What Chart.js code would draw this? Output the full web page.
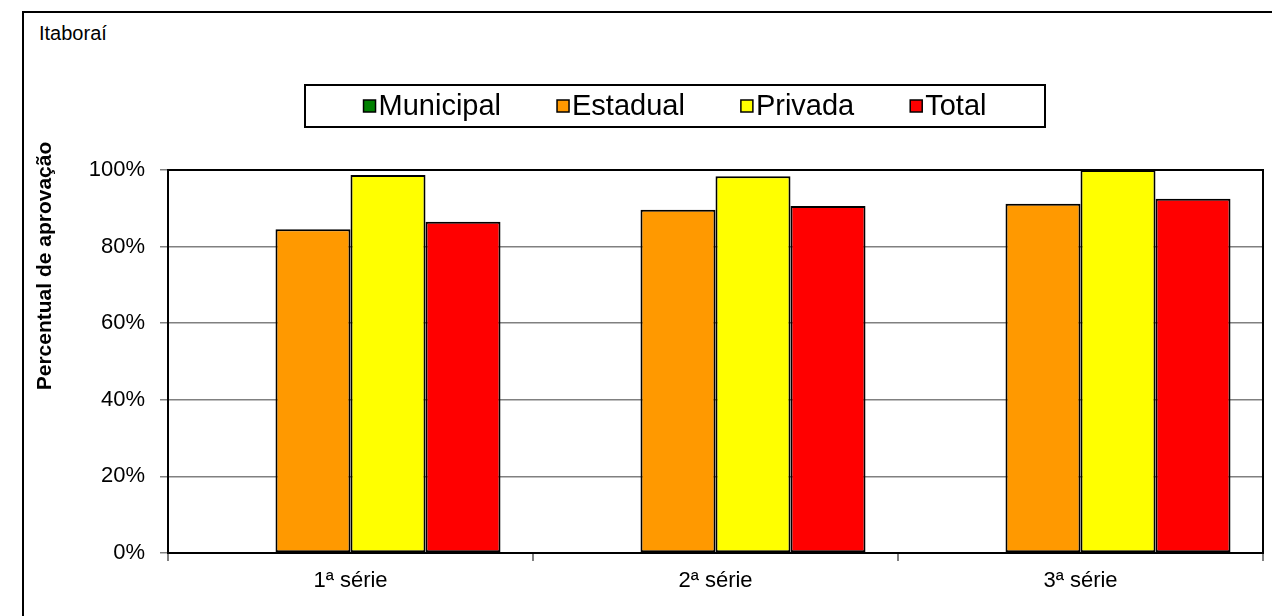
<!DOCTYPE html>
<html lang="pt">
<head>
    <meta charset="UTF-8">
    <title>Itaboraí - Percentual de aprovação</title>
    <style>
        body {
            margin: 0;
            background-color: #fff;
            font-family: "Liberation Sans", Arial, sans-serif;
        }

        #frame {
            position: absolute;
            left: 22px;
            top: 11px;
            width: 1300px;
            height: 700px;
            border: 2px solid #000;
            box-sizing: border-box;
        }

        #place {
            position: absolute;
            left: 39px;
            top: 22px;
            font-size: 20px;
            color: #000;
        }

        #chart-container {
            position: absolute;
            left: 0;
            top: 0;
            width: 1272px;
            height: 616px;
        }
    </style>
    <script src="https://cdn.jsdelivr.net/npm/chart.js"></script>
</head>
<body>
    <div id="frame"></div>
    <div id="place">Itaboraí</div>
    <div id="chart-container">
        <canvas id="approval-chart" width="1272" height="616"></canvas>
    </div>
    <script>
        const categories = ['1ª série', '2ª série', '3ª série'];
        const seriesNames = ['Municipal', 'Estadual', 'Privada', 'Total'];
        const seriesColors = ['#008000', '#FF9900', '#FFFF00', '#FF0000'];
        // Municipal has no bars in this chart
        const municipal = [null, null, null];
        const estadual = [84.5, 89.6, 91.2];
        const privada = [98.7, 98.4, 100];
        const total = [86.5, 90.6, 92.5];
        const yTicks = [0, 20, 40, 60, 80, 100];
        const yTitle = 'Percentual de aprovação';

        const seriesValues = [municipal, estadual, privada, total];
        const FONT = '"Liberation Sans", Arial, sans-serif';

        // legend drawn inside a boxed strip above the plot
        const boxLegend = {
            id: 'boxLegend',
            afterDraw(chart) {
                const ctx = chart.ctx;
                const box = { x: 305, y: 85, w: 740, h: 42 };
                ctx.save();
                ctx.fillStyle = '#fff';
                ctx.fillRect(box.x, box.y, box.w, box.h);
                ctx.lineWidth = 2;
                ctx.strokeStyle = '#000';
                ctx.strokeRect(box.x, box.y, box.w, box.h);

                ctx.font = '29px ' + FONT;
                ctx.textBaseline = 'middle';
                const marker = 12, gap = 3, spacing = 56;
                const widths = chart.data.datasets.map(d => marker + gap + ctx.measureText(d.label).width);
                const totalW = widths.reduce((a, b) => a + b, 0) + spacing * (widths.length - 1);
                let x = box.x + (box.w - totalW) / 2;
                const cy = box.y + box.h / 2;
                chart.data.datasets.forEach((d, i) => {
                    ctx.fillStyle = d.backgroundColor;
                    ctx.fillRect(x, cy - marker / 2, marker, marker);
                    ctx.lineWidth = 1.5;
                    ctx.strokeRect(x, cy - marker / 2, marker, marker);
                    ctx.fillStyle = '#000';
                    ctx.fillText(d.label, x + marker + gap, cy + 1);
                    x += widths[i] + spacing;
                });
                ctx.restore();
            }
        };

        // black frame around the plot area + rotated axis title
        const plotFrame = {
            id: 'plotFrame',
            afterDatasetsDraw(chart) {
                const a = chart.chartArea;
                const ctx = chart.ctx;
                ctx.save();
                ctx.strokeStyle = '#000';
                ctx.lineWidth = 2;
                ctx.strokeRect(a.left, a.top, a.right - a.left, a.bottom - a.top);

                ctx.translate(45, 266);
                ctx.rotate(-Math.PI / 2);
                ctx.font = 'bold 21px ' + FONT;
                ctx.fillStyle = '#000';
                ctx.textAlign = 'center';
                ctx.textBaseline = 'middle';
                ctx.fillText(yTitle, 0, 0);
                ctx.restore();
            }
        };

        const ctx = document.getElementById('approval-chart').getContext('2d');
        new Chart(ctx, {
            type: 'bar',
            data: {
                labels: categories,
                datasets: seriesNames.map((name, i) => ({
                    label: name,
                    data: seriesValues[i],
                    backgroundColor: seriesColors[i],
                    borderColor: '#000',
                    borderWidth: 2,
                    borderSkipped: false,
                    barPercentage: 1,
                    categoryPercentage: 0.822
                }))
            },
            options: {
                responsive: false,
                animation: false,
                devicePixelRatio: 1,
                layout: {
                    padding: { left: 0, top: 170, right: 9, bottom: 0 }
                },
                plugins: {
                    legend: { display: false },
                    tooltip: { enabled: false }
                },
                scales: {
                    x: {
                        grid: {
                            offset: true,
                            drawOnChartArea: false,
                            tickLength: 8,
                            color: '#808080',
                            lineWidth: 2
                        },
                        border: { color: '#000', width: 2 },
                        ticks: {
                            color: '#000',
                            padding: 7,
                            font: { family: FONT, size: 22 }
                        },
                        afterFit(scale) { scale.height = 63; }
                    },
                    y: {
                        min: 0,
                        max: 100,
                        afterBuildTicks(scale) {
                            scale.ticks = yTicks.map(v => ({ value: v }));
                        },
                        grid: {
                            color: '#808080',
                            lineWidth: 1.5,
                            tickLength: 8
                        },
                        border: { color: '#000', width: 2 },
                        ticks: {
                            color: '#000',
                            padding: 15,
                            callback: v => v + '%',
                            font: { family: FONT, size: 22 }
                        },
                        afterFit(scale) { scale.width = 168; }
                    }
                }
            },
            plugins: [plotFrame, boxLegend]
        });
    </script>
</body>
</html>
